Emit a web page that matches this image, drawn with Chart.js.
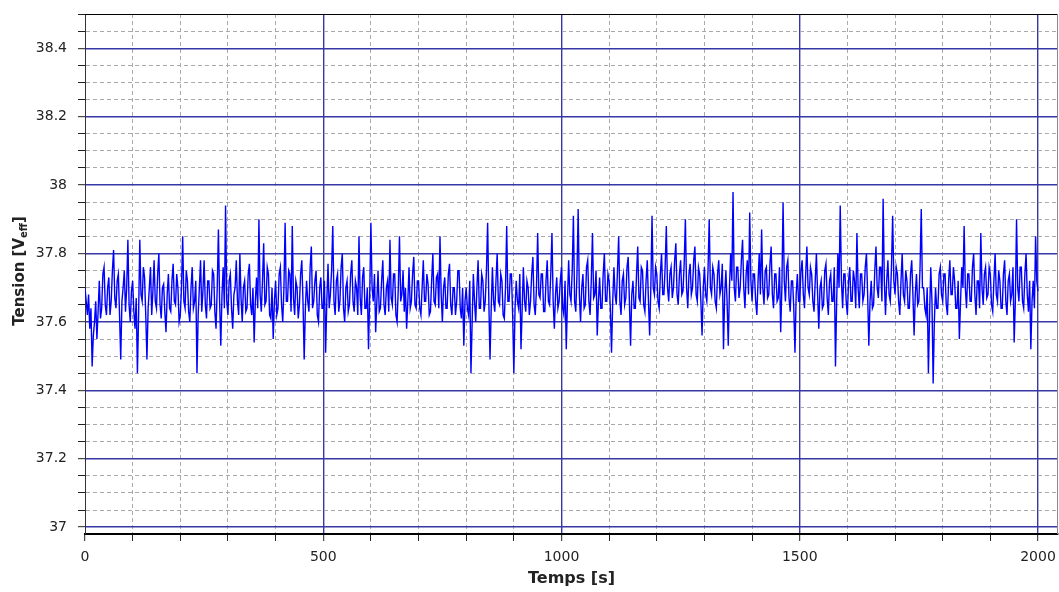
<!DOCTYPE html>
<html>
<head>
<meta charset="utf-8">
<script src="https://cdn.jsdelivr.net/npm/chart.js@4"></script>
<style>
  html, body { margin: 0; padding: 0; background: #fff; }
  #wrap { width: 1059px; height: 592px; }
</style>
</head>
<body>
<div id="wrap"><canvas id="chart" width="1059" height="592"></canvas></div>
<script>
// one value every 2.5 s (one row = 100 s)
const sampleStep = 2.5;
const tensionValues = [
  37.70,37.66, 37.62,37.68, 37.58,37.64, 37.47,37.56, 37.60,37.66, 37.55,37.63, 37.72,37.61, 37.64,37.74, 37.76,37.65, 37.62,37.70, 37.73,37.62, 37.66,37.75, 37.81,37.67, 37.64,37.72, 37.74,37.62, 37.49,37.66, 37.70,37.75, 37.63,37.70, 37.84,37.65, 37.60,37.69,
  37.72,37.63, 37.58,37.67, 37.45,37.62, 37.84,37.68, 37.66,37.76, 37.73,37.62, 37.49,37.64, 37.70,37.76, 37.62,37.69, 37.78,37.66, 37.64,37.74, 37.80,37.65, 37.61,37.70, 37.71,37.63, 37.57,37.68, 37.74,37.64, 37.63,37.72, 37.77,37.66, 37.65,37.74, 37.70,37.60,
  37.62,37.70, 37.85,37.66, 37.64,37.75, 37.72,37.63, 37.60,37.70, 37.76,37.64, 37.66,37.72, 37.45,37.62, 37.70,37.78, 37.63,37.69, 37.78,37.65, 37.61,37.72, 37.72,37.64, 37.65,37.75, 37.74,37.63, 37.58,37.70, 37.87,37.66, 37.53,37.68, 37.76,37.64, 37.94,37.66,
  37.62,37.72, 37.74,37.64, 37.58,37.68, 37.70,37.78, 37.66,37.62, 37.80,37.67, 37.60,37.70, 37.72,37.63, 37.64,37.74, 37.77,37.65, 37.62,37.70, 37.54,37.66, 37.73,37.64, 37.90,37.68, 37.63,37.72, 37.83,37.65, 37.66,37.76, 37.74,37.62, 37.61,37.70, 37.55,37.66,
  37.72,37.62, 37.64,37.74, 37.76,37.65, 37.60,37.70, 37.89,37.66, 37.66,37.75, 37.74,37.63, 37.88,37.67, 37.62,37.72, 37.70,37.61, 37.65,37.74, 37.78,37.66, 37.49,37.64, 37.72,37.66, 37.63,37.76, 37.82,37.64, 37.66,37.72, 37.75,37.62, 37.60,37.70, 37.73,37.64,
  37.64,37.72, 37.51,37.66, 37.77,37.64, 37.68,37.75, 37.88,37.66, 37.62,37.72, 37.74,37.63, 37.66,37.76, 37.80,37.64, 37.60,37.70, 37.72,37.63, 37.65,37.74, 37.78,37.66, 37.63,37.72, 37.70,37.62, 37.85,37.67, 37.62,37.73, 37.76,37.64, 37.64,37.70, 37.52,37.68,
  37.89,37.70, 37.66,37.74, 37.57,37.66, 37.75,37.63, 37.64,37.72, 37.78,37.65, 37.62,37.70, 37.72,37.63, 37.84,37.67, 37.65,37.74, 37.74,37.62, 37.60,37.70, 37.85,37.66, 37.68,37.75, 37.63,37.70, 37.58,37.66, 37.76,37.64, 37.66,37.74, 37.79,37.65, 37.64,37.72,
  37.72,37.64, 37.62,37.70, 37.78,37.66, 37.66,37.74, 37.71,37.62, 37.63,37.72, 37.80,37.66, 37.65,37.73, 37.74,37.64, 37.85,37.68, 37.60,37.70, 37.73,37.64, 37.64,37.74, 37.77,37.65, 37.62,37.70, 37.70,37.62, 37.66,37.75, 37.75,37.64, 37.61,37.70, 37.53,37.66,
  37.70,37.64, 37.62,37.72, 37.45,37.60, 37.74,37.66, 37.60,37.70, 37.78,37.64, 37.64,37.74, 37.72,37.63, 37.66,37.75, 37.89,37.66, 37.49,37.64, 37.76,37.66, 37.63,37.72, 37.80,37.66, 37.65,37.74, 37.72,37.62, 37.61,37.70, 37.88,37.66, 37.66,37.74, 37.74,37.62,
  37.45,37.64, 37.72,37.66, 37.64,37.74, 37.52,37.64, 37.76,37.66, 37.63,37.72, 37.70,37.62, 37.66,37.74, 37.79,37.65, 37.62,37.70, 37.86,37.68, 37.67,37.74, 37.74,37.63, 37.63,37.72, 37.78,37.66, 37.65,37.74, 37.86,37.66, 37.58,37.68, 37.73,37.64, 37.66,37.72,
  37.76,37.64, 37.62,37.72, 37.52,37.66, 37.78,37.68, 37.66,37.75, 37.91,37.66, 37.63,37.74, 37.93,37.68, 37.60,37.70, 37.74,37.64, 37.65,37.76, 37.78,37.66, 37.62,37.72, 37.86,37.67, 37.68,37.75, 37.56,37.66, 37.73,37.64, 37.64,37.74, 37.80,37.66, 37.66,37.74,
  37.72,37.64, 37.51,37.66, 37.76,37.68, 37.65,37.75, 37.85,37.66, 37.62,37.72, 37.74,37.65, 37.67,37.76, 37.79,37.66, 37.53,37.68, 37.72,37.64, 37.64,37.74, 37.82,37.67, 37.66,37.76, 37.75,37.65, 37.63,37.72, 37.78,37.66, 37.56,37.70, 37.91,37.70, 37.68,37.76,
  37.74,37.66, 37.64,37.74, 37.80,37.68, 37.68,37.76, 37.88,37.70, 37.66,37.74, 37.76,37.67, 37.70,37.78, 37.83,37.68, 37.65,37.74, 37.78,37.68, 37.69,37.77, 37.90,37.70, 37.64,37.74, 37.77,37.68, 37.70,37.78, 37.82,37.68, 37.66,37.76, 37.74,37.66, 37.56,37.70,
  37.76,37.68, 37.66,37.75, 37.90,37.70, 37.68,37.76, 37.74,37.66, 37.64,37.74, 37.78,37.68, 37.70,37.77, 37.52,37.68, 37.75,37.66, 37.53,37.70, 37.80,37.72, 37.98,37.70, 37.66,37.76, 37.76,37.67, 37.70,37.78, 37.84,37.70, 37.64,37.74, 37.78,37.68, 37.92,37.72,
  37.66,37.74, 37.74,37.66, 37.62,37.72, 37.80,37.68, 37.87,37.70, 37.65,37.75, 37.76,37.67, 37.68,37.77, 37.82,37.68, 37.64,37.74, 37.74,37.66, 37.67,37.76, 37.57,37.70, 37.95,37.72, 37.66,37.76, 37.78,37.67, 37.63,37.72, 37.72,37.64, 37.51,37.68, 37.74,37.66,
  37.66,37.75, 37.78,37.68, 37.64,37.74, 37.82,37.70, 37.68,37.76, 37.74,37.66, 37.63,37.72, 37.80,37.68, 37.58,37.70, 37.72,37.64, 37.65,37.75, 37.77,37.67, 37.62,37.72, 37.74,37.66, 37.66,37.76, 37.47,37.66, 37.80,37.70, 37.94,37.72, 37.64,37.74, 37.74,37.66,
  37.62,37.72, 37.76,37.66, 37.66,37.75, 37.72,37.64, 37.86,37.70, 37.64,37.74, 37.74,37.66, 37.68,37.76, 37.80,37.68, 37.53,37.66, 37.72,37.64, 37.65,37.75, 37.82,37.70, 37.67,37.76, 37.76,37.66, 37.96,37.72, 37.62,37.72, 37.78,37.68, 37.66,37.76, 37.91,37.72,
  37.68,37.76, 37.74,37.66, 37.62,37.72, 37.80,37.68, 37.66,37.75, 37.72,37.64, 37.64,37.74, 37.78,37.68, 37.56,37.68, 37.74,37.65, 37.66,37.76, 37.93,37.70, 37.70,37.64, 37.62,37.70, 37.45,37.62, 37.76,37.66, 37.42,37.60, 37.70,37.64, 37.64,37.74, 37.76,37.68,
  37.66,37.74, 37.74,37.65, 37.62,37.72, 37.78,37.68, 37.68,37.76, 37.72,37.64, 37.64,37.72, 37.55,37.66, 37.76,37.70, 37.88,37.70, 37.64,37.74, 37.74,37.66, 37.66,37.76, 37.80,37.68, 37.62,37.72, 37.72,37.64, 37.86,37.70, 37.65,37.74, 37.76,37.67, 37.68,37.76,
  37.74,37.65, 37.63,37.72, 37.80,37.68, 37.66,37.75, 37.72,37.64, 37.64,37.74, 37.78,37.66, 37.62,37.72, 37.74,37.66, 37.68,37.76, 37.54,37.66, 37.90,37.70, 37.66,37.76, 37.76,37.66, 37.64,37.74, 37.80,37.68, 37.63,37.72, 37.52,37.66, 37.72,37.64, 37.85,37.72,
  37.69
];
const timeValues = tensionValues.map((v, i) => i * sampleStep);

const xMajorTicks = [0, 500, 1000, 1500, 2000];
const yMajorTicks = [37, 37.2, 37.4, 37.6, 37.8, 38, 38.2, 38.4];

const majorGrid = 'rgb(55, 55, 165)';
const minorGrid = 'rgb(170, 170, 170)';

function isMajor(value, list) {
  return list.some(m => Math.abs(m - value) < 1e-6);
}

function xGridColor(c) {
  if (!c.tick) return minorGrid;
  if (c.tick.value === 0) return 'rgba(0, 0, 0, 0)'; // the y axis line sits there
  return isMajor(c.tick.value, xMajorTicks) ? majorGrid : minorGrid;
}

// y title with subscript "eff", plus the top/right frame
const yTitlePlugin = {
  id: 'yTitle',
  afterDraw(chart) {
    const ctx = chart.ctx;
    const area = chart.chartArea;
    ctx.save();
    ctx.translate(20, 271);
    ctx.rotate(-Math.PI / 2);
    ctx.fillStyle = '#222';
    ctx.textBaseline = 'middle';
    const big = 'bold 15px "DejaVu Sans"';
    const small = 'bold 10px "DejaVu Sans"';
    ctx.font = big;
    const w1 = ctx.measureText('Tension [V').width;
    const w3 = ctx.measureText(']').width;
    ctx.font = small;
    const w2 = ctx.measureText('eff').width;
    let x = -(w1 + w2 + w3) / 2;
    ctx.font = big;
    ctx.fillText('Tension [V', x, 0);
    x += w1;
    ctx.font = small;
    ctx.fillText('eff', x, 4);
    x += w2;
    ctx.font = big;
    ctx.fillText(']', x, 0);
    ctx.restore();

    ctx.save();
    ctx.lineWidth = 1;
    ctx.strokeStyle = '#000';
    ctx.beginPath();
    ctx.moveTo(area.left, area.top + 0.5);
    ctx.lineTo(area.right, area.top + 0.5);
    ctx.stroke();
    ctx.strokeStyle = '#888';
    ctx.beginPath();
    ctx.moveTo(area.right - 0.5, area.top);
    ctx.lineTo(area.right - 0.5, area.bottom);
    ctx.stroke();
    ctx.restore();
  }
};

const ctx = document.getElementById('chart').getContext('2d');
const chart = new Chart(ctx, {
  type: 'line',
  data: {
    labels: timeValues,
    datasets: [{
      data: tensionValues,
      borderColor: 'rgb(0, 0, 255)',
      borderWidth: 1.4,
      pointRadius: 0,
      tension: 0,
      fill: false
    }]
  },
  options: {
    responsive: false,
    animation: false,
    layout: { padding: { top: 14, right: 1, left: 0, bottom: 0 } },
    plugins: { legend: { display: false }, tooltip: { enabled: false } },
    scales: {
      x: {
        type: 'linear',
        min: 0,
        max: 2042,
        afterFit(scale) {
          scale.height = 58;
          scale.paddingLeft = 0;
          scale.paddingRight = 0;
        },
        ticks: {
          stepSize: 100,
          autoSkip: false,
          includeBounds: false,
          maxRotation: 0,
          padding: 8,
          color: '#222',
          font: { family: 'DejaVu Sans', size: 14 },
          callback: v => isMajor(v, xMajorTicks) ? String(v) : ''
        },
        grid: {
          color: xGridColor,
          lineWidth: c => (c.tick && isMajor(c.tick.value, xMajorTicks)) ? 1.4 : 1,
          tickLength: 7,
          tickColor: '#222',
          tickWidth: 1,
          drawTicks: true
        },
        border: {
          display: true,
          color: '#000',
          width: 2,
          dash: c => (c.tick && !isMajor(c.tick.value, xMajorTicks)) ? [4, 3] : []
        },
        title: {
          display: true,
          text: 'Temps [s]',
          color: '#222',
          font: { family: 'DejaVu Sans', size: 16, weight: 'bold' },
          padding: { top: 0, bottom: 4 }
        }
      },
      y: {
        min: 36.98,
        max: 38.5,
        afterFit(scale) {
          scale.width = 85;
          scale.paddingTop = 0;
          scale.paddingBottom = 0;
        },
        ticks: {
          stepSize: 0.05,
          autoSkip: false,
          includeBounds: false,
          padding: 11,
          color: '#222',
          font: { family: 'DejaVu Sans', size: 14 },
          callback: v => isMajor(v, yMajorTicks) ? String(Math.round(v * 10) / 10) : ''
        },
        grid: {
          color: c => (c.tick && isMajor(c.tick.value, yMajorTicks)) ? majorGrid : minorGrid,
          lineWidth: c => (c.tick && isMajor(c.tick.value, yMajorTicks)) ? 1.4 : 1,
          tickLength: 7,
          tickColor: '#222',
          tickWidth: 1,
          drawTicks: true
        },
        border: {
          display: true,
          color: '#333',
          width: 1,
          dash: c => (c.tick && !isMajor(c.tick.value, yMajorTicks)) ? [4, 3] : []
        }
      }
    }
  },
  plugins: [yTitlePlugin]
});
</script>
</body>
</html>
